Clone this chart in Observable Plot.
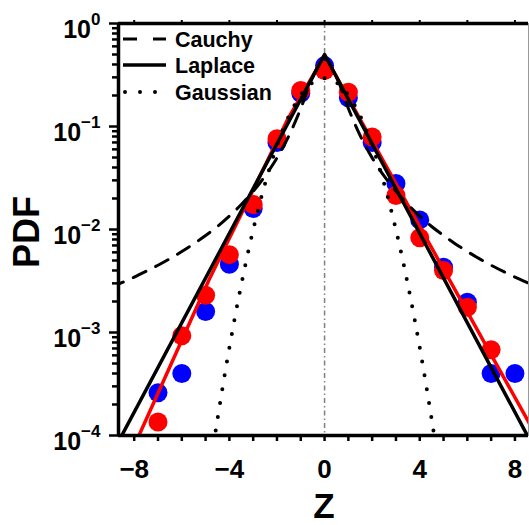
<!DOCTYPE html>
<html><head><meta charset="utf-8">
<script src="https://cdn.jsdelivr.net/npm/d3@7"></script>
<script src="https://cdn.jsdelivr.net/npm/@observablehq/plot@0.6"></script>
<style>body{margin:0;background:#fff}#chart{width:529px;height:525px}</style>
</head><body><div id="chart"></div>
<script>
// ---- data ----
const redX = [-7,-6,-5,-4,-3,-2,-1,0,1,2,3,4,5,6,7];
const redY = [1.35e-4,9.3e-4,2.3e-3,5.7e-3,0.0175,0.076,0.224,0.35,0.215,0.079,0.0214,0.0083,0.0040,1.76e-3,6.8e-4];
const blueX = [-7,-6,-5,-4,-3,-2,-1,0,1,2,3,4,5,6,7,8];
const blueY = [2.6e-4,4.0e-4,1.6e-3,4.6e-3,0.016,0.07,0.21,0.39,0.19,0.07,0.028,0.0124,0.0043,1.97e-3,4.0e-4,4.0e-4];
const redFitX = [-9,-7.8,-4.87,-1.57,0,9];
const redFitY = [2.4e-5,1.0e-4,3.2e-3,0.115,0.49,9.0e-5];
const laplaceX = [-9,0,9];
const laplaceY = [6.2e-5,0.5,6.2e-5];
const cauchyX = [-9,-8.5,-8,-7.5,-7,-6.5,-6,-5.5,-5,-4.5,-4,-3.5,-3,-2.5,-2,-1.5,-1,-0.5,0,0.5,1,1.5,2,2.5,3,3.5,4,4.5,5,5.5,6,6.5,7,7.5,8,8.5,9];
const cauchyY = [0.00273,0.00306,0.00345,0.00393,0.0045,0.00521,0.00611,0.00725,0.00874,0.0107,0.0135,0.0175,0.0235,0.0331,0.0496,0.0813,0.1495,0.301,0.455,0.301,0.1495,0.0813,0.0496,0.0331,0.0235,0.0175,0.0135,0.0107,0.00874,0.00725,0.00611,0.00521,0.0045,0.00393,0.00345,0.00306,0.00273];
const gaussX = [-4.75,-4.5,-4,-3.5,-3,-2.5,-2,-1.5,-1,-0.5,0,0.5,1,1.5,2,2.5,3,3.5,4,4.5,4.75];
const gaussY = [6.0e-5,1.44e-4,7.14e-4,2.92e-3,9.93e-3,0.028,0.0652,0.126,0.202,0.267,0.294,0.267,0.202,0.126,0.0652,0.028,9.93e-3,2.92e-3,7.14e-4,1.44e-4,6.0e-5];
const xTicks = [-8,-7,-6,-5,-4,-3,-2,-1,0,1,2,3,4,5,6,7,8];
const xLabeled = [-8,-4,0,4,8];
const topTicks = [-8,-6,-4,-2,0,2,4,6,8];
const yMajor = [1e-4,1e-3,1e-2,1e-1,1];
const yMinorMult = [2,3,4,5,6,7,8,9];
const legendNames = ["Cauchy","Laplace","Gaussian"];
const xLabel = "Z", yLabel = "PDF";

const pts = (xs, ys) => xs.map((x, i) => ({x, y: ys[i]}));
const yMinor = yMajor.slice(0, -1).flatMap(d => yMinorMult.map(m => m * d));
const XD = [-8.66, 8.57];
const minus = v => v < 0 ? "\u2212" + (-v) : String(v);

const svg = Plot.plot({
  width: 529, height: 525,
  marginLeft: 118, marginRight: 1, marginTop: 23, marginBottom: 90,
  style: {fontFamily: '"Liberation Sans", Arial, sans-serif', fontWeight: "bold", background: "#fff", color: "#000"},
  x: {domain: XD, label: null},
  y: {type: "log", domain: [1e-4, 1], label: null},
  marks: [
    Plot.frame({stroke: "#999", strokeWidth: 1}),
    Plot.ruleX([0], {stroke: "#808080", strokeWidth: 1.5, strokeDasharray: "5,3,1.5,3"}),
    Plot.dot(pts(blueX, blueY), {x: "x", y: "y", r: 9.5, fill: "#0000ff"}),
    Plot.dot(pts(redX, redY), {x: "x", y: "y", r: 9.5, fill: "#ff0000"}),
    Plot.line(pts(redFitX, redFitY), {x: "x", y: "y", stroke: "#ff0000", strokeWidth: 3.5, clip: true}),
    Plot.line(pts(cauchyX, cauchyY), {x: "x", y: "y", stroke: "#000", strokeWidth: 3, strokeDasharray: "14,11", curve: "catmull-rom", clip: true}),
    Plot.line(pts(laplaceX, laplaceY), {x: "x", y: "y", stroke: "#000", strokeWidth: 3.5, clip: true}),
    Plot.line(pts(gaussX, gaussY), {x: "x", y: "y", stroke: "#000", strokeWidth: 4, strokeDasharray: "0,14", strokeLinecap: "round", curve: "catmull-rom", clip: true}),
    Plot.ruleY([1e-4], {stroke: "#000", strokeWidth: 3.5}),
    Plot.ruleY([1], {stroke: "#000", strokeWidth: 3.5}),
    Plot.ruleX([XD[0]], {stroke: "#000", strokeWidth: 3.5}),
    Plot.axisX({ticks: xTicks, tickSize: 6, tickPadding: 18, fontSize: 26, strokeWidth: 2.5,
      tickFormat: d => xLabeled.includes(d) ? minus(d) : ""}),
    Plot.axisX({anchor: "top", ticks: topTicks, tickSize: 4, strokeWidth: 2, tickFormat: () => ""}),
    Plot.axisY({ticks: yMinor, tickSize: 6, strokeWidth: 2.5, tickFormat: () => ""}),
    Plot.axisY({ticks: yMajor, tickSize: 9, tickPadding: 9, fontSize: 25, strokeWidth: 2.5,
      tickFormat: d => "10|" + minus(Math.round(Math.log10(d)))})
  ]
});

// superscript exponents on y tick labels
svg.querySelectorAll("text").forEach(t => {
  const s = t.textContent;
  if (!s.includes("|")) return;
  const [base, exp] = s.split("|");
  t.textContent = "";
  const NS = "http://www.w3.org/2000/svg";
  const a = document.createElementNS(NS, "tspan");
  a.setAttribute("dy", "6"); a.textContent = base;
  const b = document.createElementNS(NS, "tspan");
  b.setAttribute("dy", "-13"); b.setAttribute("font-size", "17"); b.textContent = exp;
  t.appendChild(a); t.appendChild(b);
});

const g = d3.select(svg);
// axis titles
g.append("text").attr("x", 324).attr("y", 518).attr("text-anchor", "middle")
  .attr("font-size", 35).attr("font-weight", "bold").text(xLabel);
g.append("text").attr("transform", "translate(39,232) rotate(-90)").attr("text-anchor", "middle")
  .attr("font-size", 36).attr("font-weight", "bold").text(yLabel);

// legend
const lg = g.append("g").attr("text-anchor", "start");
const dashes = ["14,16", null, "0,15"];
const widths = [3, 3.5, 4];
const rowsY = [39, 65, 92];
legendNames.forEach((name, i) => {
  const ln = lg.append("line").attr("x1", i === 2 ? 125 : 123).attr("x2", 166)
    .attr("y1", rowsY[i]).attr("y2", rowsY[i]).attr("stroke", "#000").attr("stroke-width", widths[i]);
  if (dashes[i]) ln.attr("stroke-dasharray", dashes[i]);
  if (i === 2) ln.attr("stroke-linecap", "round");
  lg.append("text").attr("x", 175).attr("y", rowsY[i] + 7.5).attr("font-size", 21.5)
    .attr("text-anchor", "start").attr("font-weight", "bold").text(name);
});

document.getElementById("chart").appendChild(svg);
</script>
</body></html>
